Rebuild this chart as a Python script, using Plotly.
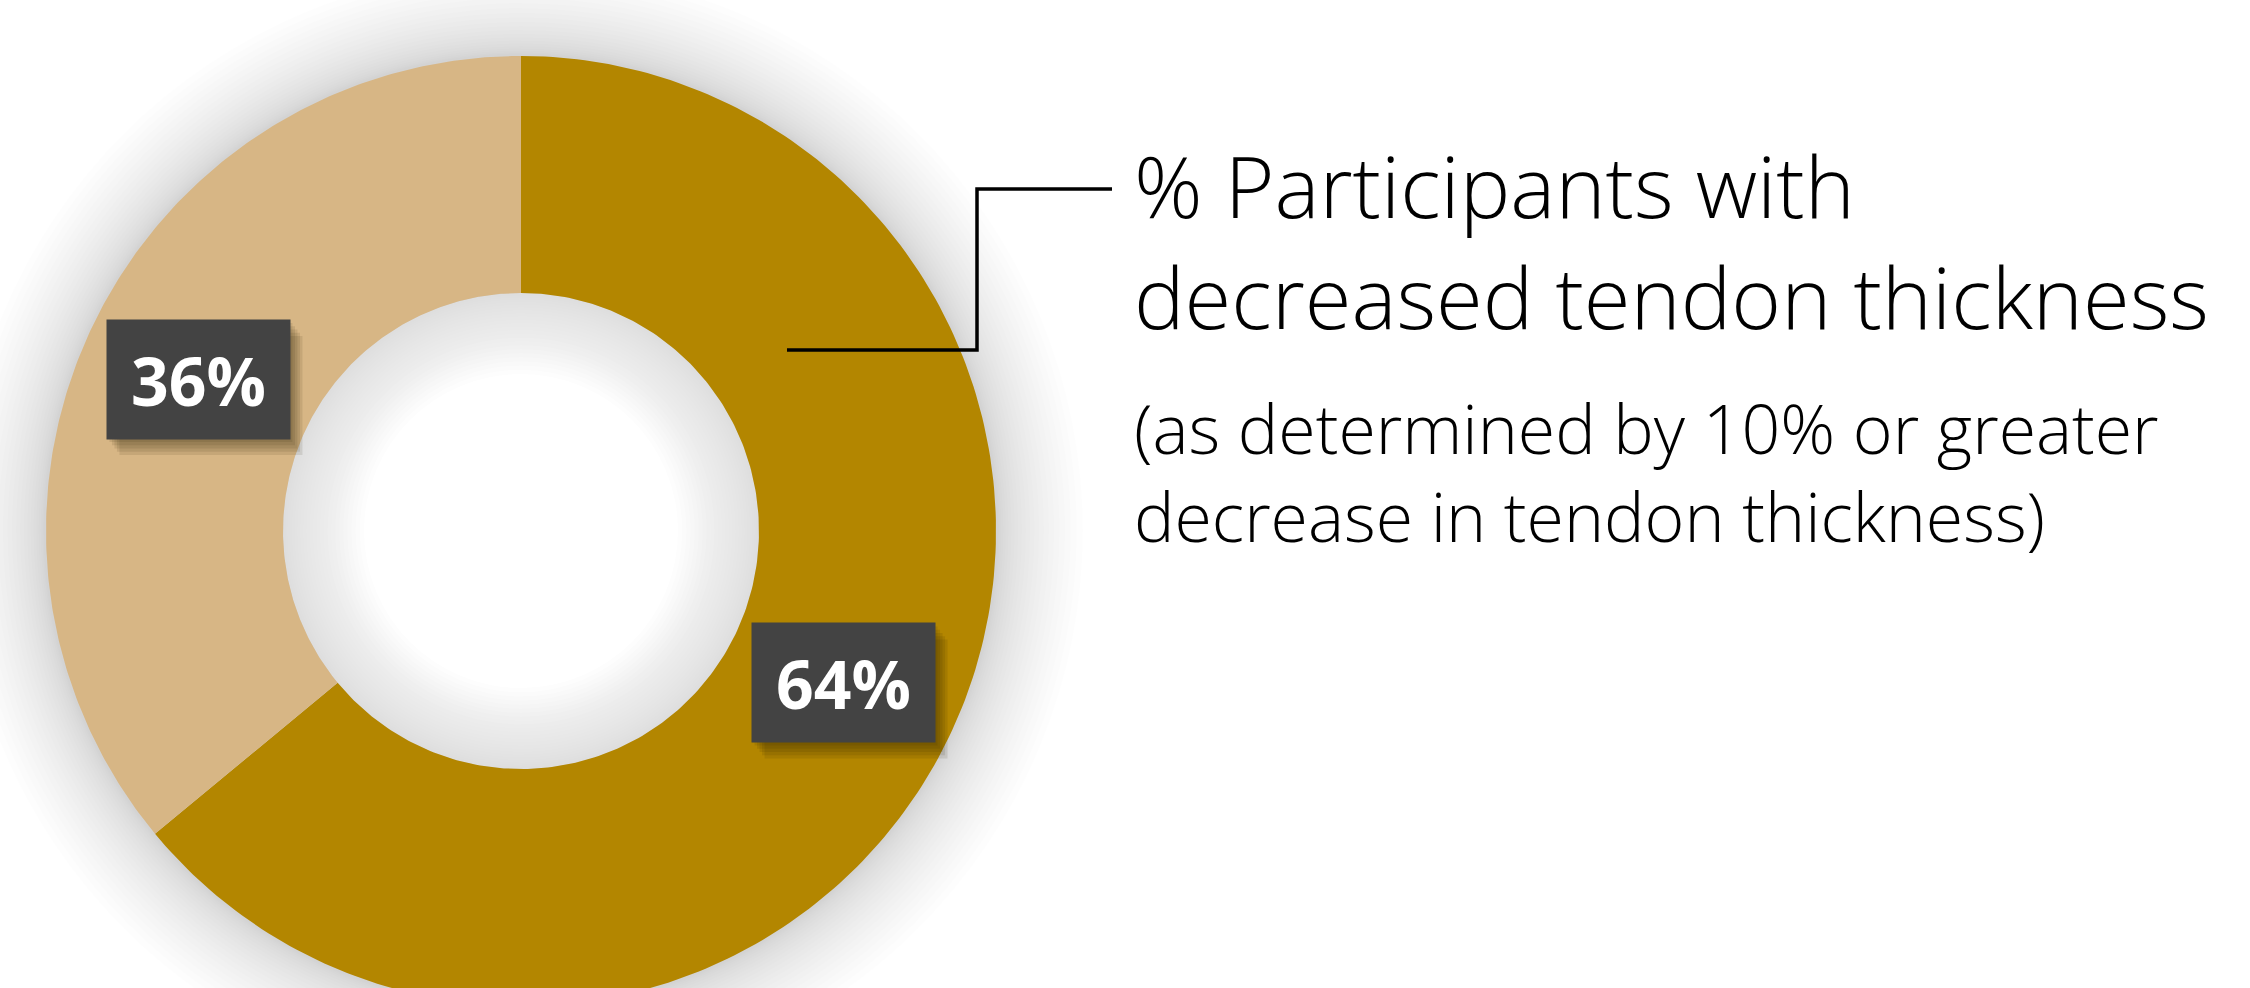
import numpy as np
import plotly.graph_objects as go

# ---- data -------------------------------------------------------------
categories = ["Decreased tendon thickness", "No decrease"]
shares = [64, 36]
slice_colors = ["#B38600", "#D7B685"]
label_texts = [f"{v}%" for v in shares]

title_lines = ["% Participants with", "decreased tendon thickness"]
note_lines = ["(as determined by 10% or greater", "decrease in tendon thickness)"]

# ---- geometry (axis units are pixels) ---------------------------------
W, H = 2250, 988
CX, CY = 521, 531
R_OUT, R_IN = 475, 238
R_LABEL = (R_OUT + R_IN) / 2


def ring_sector(f0, f1, n=240):
    """Closed outline of a donut sector between fractions f0..f1 (clockwise from 12 o'clock)."""
    t = np.linspace(f0, f1, n) * 2 * np.pi
    xo, yo = CX + R_OUT * np.sin(t), CY - R_OUT * np.cos(t)
    ti = t[::-1]
    xi, yi = CX + R_IN * np.sin(ti), CY - R_IN * np.cos(ti)
    return np.concatenate([xo, xi, xo[:1]]), np.concatenate([yo, yi, yo[:1]])


def disc(r, color, layer="below"):
    return dict(type="circle", xref="x", yref="y", x0=CX - r, x1=CX + r,
                y0=CY - r, y1=CY + r, fillcolor=color, line=dict(width=0), layer=layer)


fig = go.Figure()
shapes = []

# soft halo outside the ring
N_GLOW, GLOW_W = 22, 85
for k in range(N_GLOW):
    r = R_OUT + 2 + GLOW_W * ((N_GLOW - k) / N_GLOW) ** 1.6
    shapes.append(disc(r, "rgba(0,0,0,0.0065)"))

# hole with an inner shadow fading to white toward the centre
shapes.append(disc(R_IN, "rgb(222,222,222)"))
N_IN, IN_W = 24, 80
for k in range(1, N_IN + 1):
    r = R_IN - 1 - IN_W * (k / N_IN) ** 1.3
    shapes.append(disc(r, f"rgba(255,255,255,{1.0 / (N_IN - k + 1):.4f})"))

# donut slices
total = float(sum(shares))
start = 0.0
label_pos = []
for name, val, col in zip(categories, shares, slice_colors):
    f0, f1 = start / total, (start + val) / total
    xs, ys = ring_sector(f0, f1)
    fig.add_trace(go.Scatter(x=xs, y=ys, mode="lines", fill="toself",
                             fillcolor=col, line=dict(width=0, color=col),
                             name=name, hoverinfo="name", showlegend=False))
    mid = (f0 + f1) / 2 * 2 * np.pi
    label_pos.append((CX + R_LABEL * np.sin(mid), CY - R_LABEL * np.cos(mid)))
    start += val

# value labels: dark boxes with a soft drop shadow
BOX_W, BOX_H = 183, 119
annotations = []
for (lx, ly), txt in zip(label_pos, label_texts):
    for k in range(1, 6):
        off = 2.5 * k
        shapes.append(dict(type="rect", xref="x", yref="y", layer="above",
                           x0=lx - BOX_W / 2 + off, x1=lx + BOX_W / 2 + off,
                           y0=ly - BOX_H / 2 + off * 1.3, y1=ly + BOX_H / 2 + off * 1.3,
                           fillcolor="rgba(40,30,0,0.10)", line=dict(width=0)))
    annotations.append(dict(x=lx, y=ly, xref="x", yref="y", text=txt, showarrow=False,
                            xanchor="center", yanchor="middle", width=BOX_W, height=BOX_H,
                            bgcolor="#434343", borderpad=0,
                            font=dict(family="Open Sans", size=66, color="white", weight=700)))

# leader line from the dark slice to the series description
shapes.append(dict(type="path", xref="x", yref="y", layer="above",
                   path="M 787,350 H 977 V 189 H 1112",
                   line=dict(color="black", width=3.5)))

TEXT_X = 1132
annotations.append(dict(x=TEXT_X, y=240, xref="x", yref="y", text="<br>".join(title_lines),
                        showarrow=False, xanchor="left", yanchor="middle", align="left",
                        font=dict(family="Open Sans", size=85, color="black", weight=300)))
annotations.append(dict(x=TEXT_X, y=471, xref="x", yref="y", text="<br>".join(note_lines),
                        showarrow=False, xanchor="left", yanchor="middle", align="left",
                        font=dict(family="Open Sans", size=68, color="black", weight=300)))

fig.update_layout(
    width=W, height=H,
    margin=dict(l=0, r=0, t=0, b=0),
    paper_bgcolor="white", plot_bgcolor="white",
    xaxis=dict(range=[0, W], visible=False, fixedrange=True),
    yaxis=dict(range=[H, 0], visible=False, fixedrange=True),
    shapes=shapes, annotations=annotations, showlegend=False,
)

fig.write_html("out.html")
